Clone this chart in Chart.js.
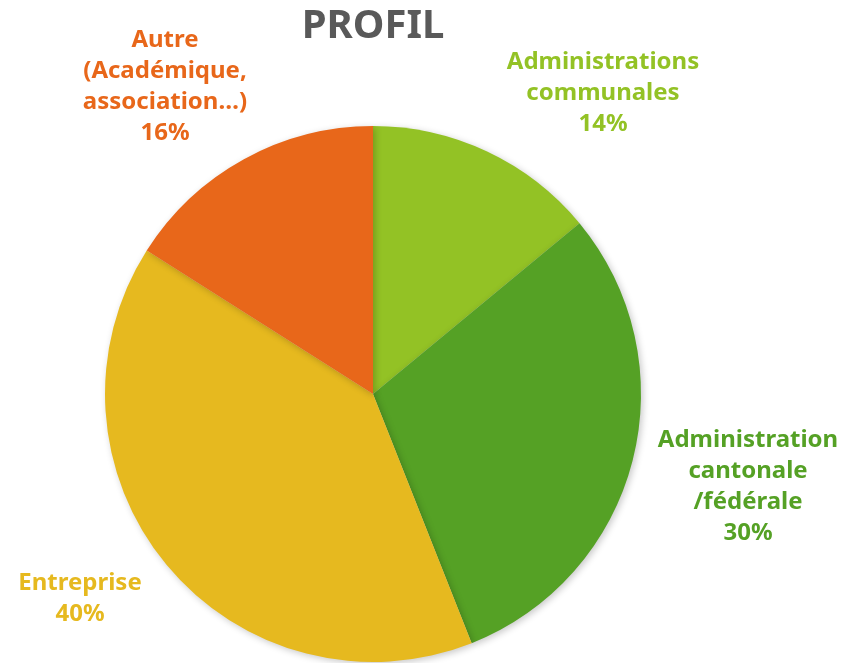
<!DOCTYPE html>
<html>
<head>
<meta charset="utf-8">
<script src="https://cdn.jsdelivr.net/npm/chart.js@4/dist/chart.umd.min.js"></script>
<style>
  html, body { margin: 0; padding: 0; background: #ffffff; }
  #wrap { width: 842px; height: 663px; position: relative; }
</style>
</head>
<body>
<div id="wrap"><canvas id="c" width="842" height="663"></canvas></div>
<script>
const chartTitle = "PROFIL";
const categories = ["Administrations communales", "Administration cantonale /fédérale", "Entreprise", "Autre (Académique, association…)"];
const labelLines = [
  ["Administrations", "communales"],
  ["Administration", "cantonale", "/fédérale"],
  ["Entreprise"],
  ["Autre", "(Académique,", "association…)"]
];
const values = [14, 30, 40, 16];
const colors = ["#93C225", "#55A125", "#E6B91F", "#E8671A"];

// label anchor offsets relative to pie centre (text layout only)
const labelAnchors = [
  { dx: 230, dy: -332 },
  { dx: 375, dy: 46 },
  { dx: -293, dy: 189 },
  { dx: -208, dy: -354 }
];

const shadowPlugin = {
  id: 'shadow',
  beforeDatasetsDraw(chart) {
    const ctx = chart.ctx;
    ctx.save();
    ctx.shadowColor = 'rgba(0,0,0,0.22)';
    ctx.shadowBlur = 7;
    ctx.shadowOffsetX = 2;
    ctx.shadowOffsetY = 2;
  },
  afterDatasetsDraw(chart) {
    chart.ctx.restore();
  }
};

const textPlugin = {
  id: 'texts',
  afterDraw(chart) {
    const ctx = chart.ctx;
    const meta = chart.getDatasetMeta(0);
    const arc = meta.data[0];
    const cx = arc.x, cy = arc.y;
    ctx.save();
    ctx.textAlign = 'center';
    ctx.textBaseline = 'middle';
    ctx.fillStyle = '#595959';
    ctx.font = 'bold 40px "Noto Sans", sans-serif';
    ctx.fillText(chartTitle, cx, 27);
    ctx.font = 'bold 24px "Noto Sans", sans-serif';
    const lh = 31;
    labelLines.forEach((lines, i) => {
      const all = lines.concat([values[i] + '%']);
      ctx.fillStyle = colors[i];
      const a = labelAnchors[i];
      all.forEach((t, k) => {
        ctx.fillText(t, cx + a.dx, cy + a.dy + k * lh);
      });
    });
    ctx.restore();
  }
};

new Chart(document.getElementById('c'), {
  type: 'pie',
  data: {
    labels: categories,
    datasets: [{
      data: values,
      backgroundColor: colors,
      borderWidth: 0
    }]
  },
  options: {
    responsive: false,
    animation: false,
    layout: { padding: { top: 126, bottom: 1, left: 105, right: 201 } },
    plugins: {
      legend: { display: false },
      title: { display: false },
      tooltip: { enabled: false }
    }
  },
  plugins: [shadowPlugin, textPlugin]
});
</script>
</body>
</html>
